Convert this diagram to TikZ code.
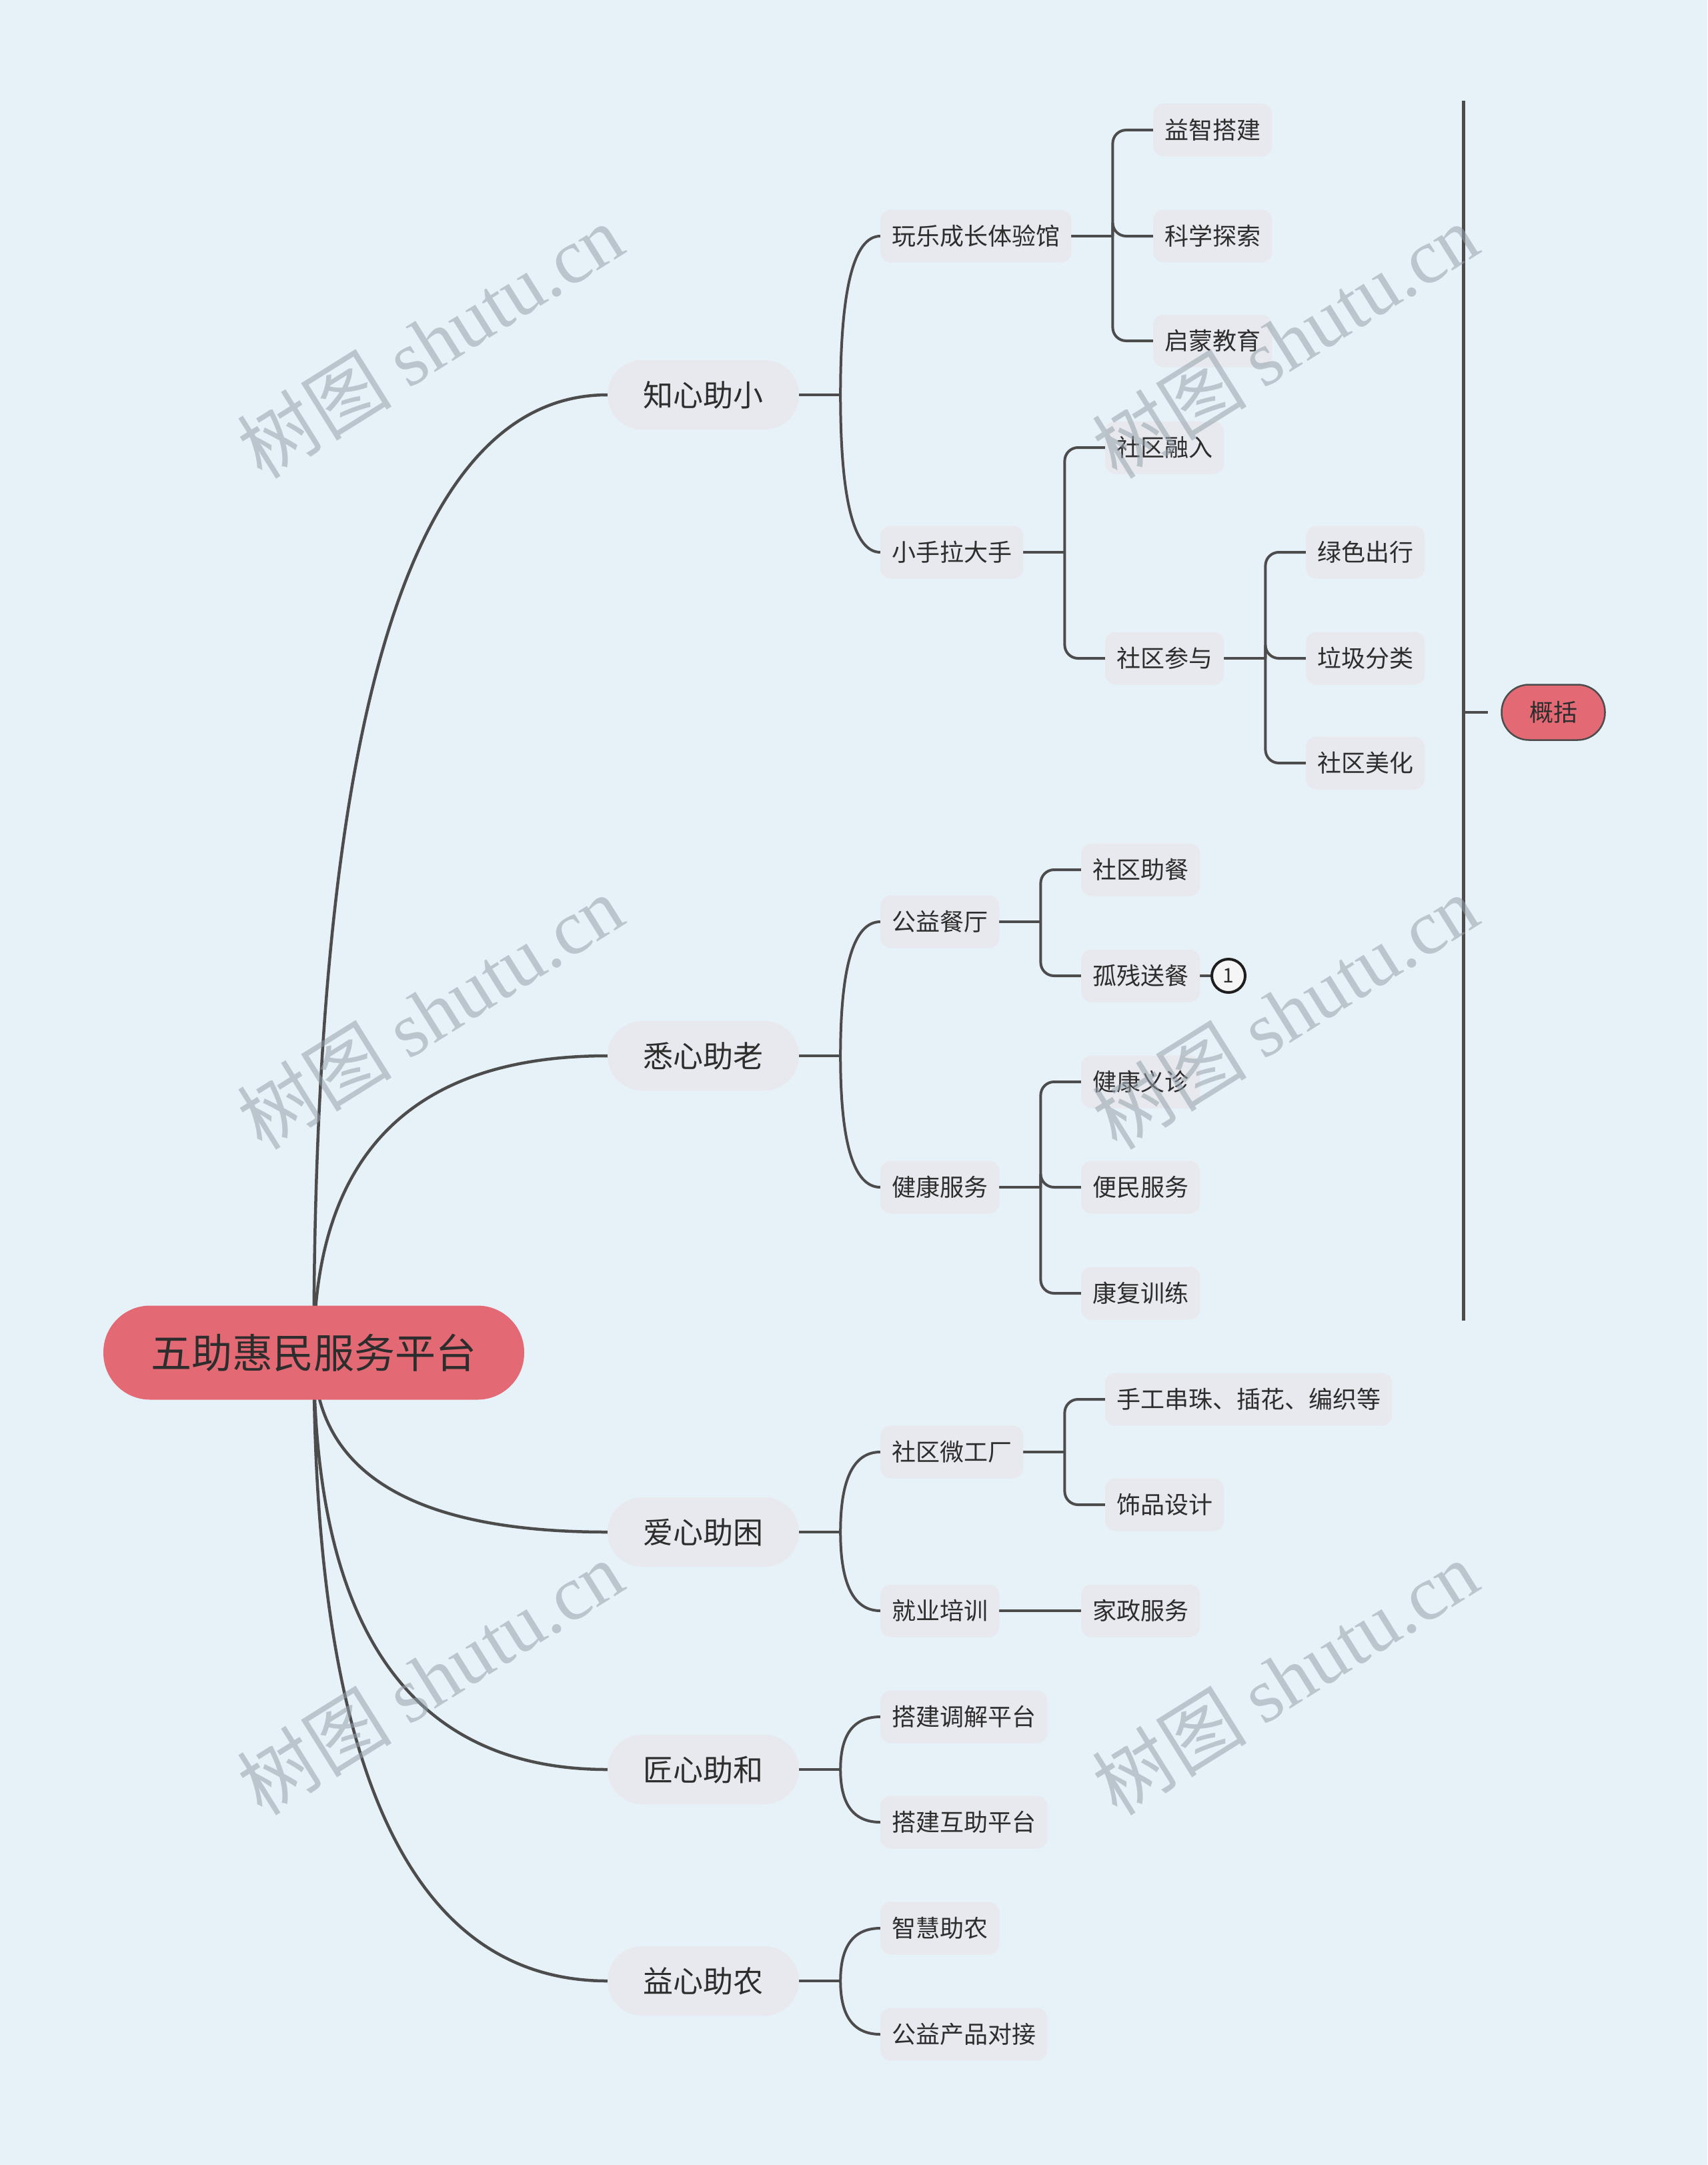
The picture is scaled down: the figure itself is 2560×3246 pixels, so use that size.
\documentclass[tikz,border=0pt]{standalone}
\usepackage{fontspec}
\setmainfont{Noto Sans CJK SC}
\newfontfamily\wmserif{Liberation Serif}
\usetikzlibrary{calc}
\definecolor{bgc}{RGB}{231,241,248}
\definecolor{nodec}{RGB}{232,233,238}
\definecolor{rootc}{RGB}{227,106,116}
\definecolor{linec}{RGB}{76,76,76}
\definecolor{txtc}{RGB}{45,45,45}
\definecolor{wmc}{RGB}{150,162,172}
\pgfdeclarelayer{back}
\pgfdeclarelayer{lines}
\pgfsetlayers{back,lines,main}
\tikzset{
  rootbox/.style={fill=rootc, rounded corners=70pt, minimum width=631pt, minimum height=141pt,
    inner sep=0pt, text=txtc, font=\fontsize{61}{61}\selectfont, text height=53.7pt, text depth=7.3pt},
  lonebox/.style={fill=nodec, rounded corners=52pt, minimum width=287pt, minimum height=104pt,
    inner sep=0pt, text=txtc, font=\fontsize{45}{45}\selectfont, text height=39.6pt, text depth=5.4pt},
  subbox/.style={fill=nodec, rounded corners=16pt, minimum height=79pt, inner xsep=17pt, inner ysep=0pt,
    anchor=west, text=txtc, font=\fontsize{36}{36}\selectfont, text height=31.7pt, text depth=4.3pt},
  sumbox/.style={fill=rootc, draw=linec, line width=2.5pt, rounded corners=41pt, minimum width=155pt,
    minimum height=83pt, inner sep=0pt, text=txtc, font=\fontsize{36}{36}\selectfont, text height=31.7pt, text depth=4.3pt},
  markc/.style={circle, draw={rgb,255:red,30;green,30;blue,30}, line width=4pt, fill={rgb,255:red,245;green,245;blue,245},
    minimum size=50pt, inner sep=0pt, text=txtc, font=\fontsize{30}{30}\selectfont},
  mainlink/.style={draw=linec, line width=4.5pt},
  sublink/.style={draw=linec, line width=4pt},
  cornerlink/.style={draw=linec, line width=4pt, rounded corners=20pt},
  wmark/.style={rotate=32, text=wmc, text opacity=0.55, inner sep=0pt, font=\fontsize{116}{116}\selectfont},
}
\begin{document}
\begin{tikzpicture}[x=1pt,y=-1pt]
\begin{pgfonlayer}{back}
  \fill[bgc] (0,0) rectangle (2560,3246);
\end{pgfonlayer}
\useasboundingbox (0,0) rectangle (2560,3246);

% root
\node[rootbox] (R) at (470.5,2028) {五助惠民服务平台};

% level 1
\node[lonebox] (A) at (1054.5,592) {知心助小};
\node[lonebox] (B) at (1054.5,1583) {悉心助老};
\node[lonebox] (C) at (1054.5,2297) {爱心助困};
\node[lonebox] (D) at (1054.5,2653) {匠心助和};
\node[lonebox] (E) at (1054.5,2970) {益心助农};

% level 2
\node[subbox] (A1) at (1320,354) {玩乐成长体验馆};
\node[subbox] (A2) at (1320,828) {小手拉大手};
\node[subbox] (B1) at (1320,1382) {公益餐厅};
\node[subbox] (B2) at (1320,1780) {健康服务};
\node[subbox] (C1) at (1320,2177) {社区微工厂};
\node[subbox] (C2) at (1320,2415) {就业培训};
\node[subbox] (D1) at (1320,2574) {搭建调解平台};
\node[subbox] (D2) at (1320,2732) {搭建互助平台};
\node[subbox] (E1) at (1320,2891) {智慧助农};
\node[subbox] (E2) at (1320,3050) {公益产品对接};

% level 3
\node[subbox] (A11) at (1729,195) {益智搭建};
\node[subbox] (A12) at (1729,354) {科学探索};
\node[subbox] (A13) at (1729,511) {启蒙教育};
\node[subbox] (A21) at (1657,671) {社区融入};
\node[subbox] (A22) at (1657,987) {社区参与};
\node[subbox] (A221) at (1958,828) {绿色出行};
\node[subbox] (A222) at (1958,987) {垃圾分类};
\node[subbox] (A223) at (1958,1144) {社区美化};
\node[subbox] (B11) at (1621,1304) {社区助餐};
\node[subbox] (B12) at (1621,1463) {孤残送餐};
\node[subbox] (B21) at (1621,1622) {健康义诊};
\node[subbox] (B22) at (1621,1780) {便民服务};
\node[subbox] (B23) at (1621,1939) {康复训练};
\node[subbox] (C11) at (1657,2098) {手工串珠、插花、编织等};
\node[subbox] (C12) at (1657,2256) {饰品设计};
\node[subbox] (C21) at (1621,2415) {家政服务};

% marker
\node[markc] (M1) at (1842,1463) {1};

% summary
\coordinate (Stop) at (2194,151);
\coordinate (Sbot) at (2194,1980);
\coordinate (Smid) at (2194,1068);
\coordinate (Stick) at (2231,1068);
\node[sumbox] (S) at (2329,1068) {概括};

% junctions
\foreach \n in {A,B,C,D,E,A1,A2,A22,B1,B2,C1}{
  \coordinate (\n j) at ($(\n.east)+(62,0)$);
}

\begin{pgfonlayer}{lines}
  % root to level 1 (quadratic curves)
  \foreach \n in {A,B,C,D,E}{
    \coordinate (\n k) at (R.center |- \n.west);
    \path[mainlink] (R.center) .. controls ($(R.center)!2/3!(\n k)$) and ($(\n.west)!2/3!(\n k)$) .. (\n.west);
  }
  % level 1 to level 2 (quadratic curves)
  \foreach \p/\c in {A/A1,A/A2,B/B1,B/B2,C/C1,C/C2,D/D1,D/D2,E/E1,E/E2}{
    \coordinate (\c k) at (\p j |- \c.west);
    \path[sublink] (\p j) .. controls ($(\p j)!2/3!(\c k)$) and ($(\c.west)!2/3!(\c k)$) .. (\c.west);
  }
  \foreach \p in {A,B,C,D,E}{
    \path[sublink] (\p.east) -- (\p j);
  }
  % level 2 to level 3
  \foreach \p/\c in {A1/A11,A1/A12,A1/A13,A2/A21,A2/A22,A22/A221,A22/A222,A22/A223,B1/B11,B1/B12,B2/B21,B2/B22,B2/B23,C1/C11,C1/C12}{
    \path[cornerlink] (\p j) |- (\c.west);
  }
  \foreach \p in {A1,A2,A22,B1,B2,C1}{
    \path[sublink] (\p.east) -- (\p j);
  }
  \path[sublink] (C2.east) -- (C21.west);
  \path[sublink] (B12.east) -- (M1.west);
  % summary bracket
  \path[sublink, line width=5pt] (Stop) -- (Sbot);
  \path[sublink] (Smid) -- (Stick);
\end{pgfonlayer}

% watermarks
\foreach \i/\x/\y in {1/645/511,2/1927/511,3/645/1517,4/1927/1517,5/645/2515,6/1927/2515}{
  \node[wmark] (W\i) at (\x,\y) {树图 {\wmserif shutu.cn}};
}
\end{tikzpicture}
\end{document}
